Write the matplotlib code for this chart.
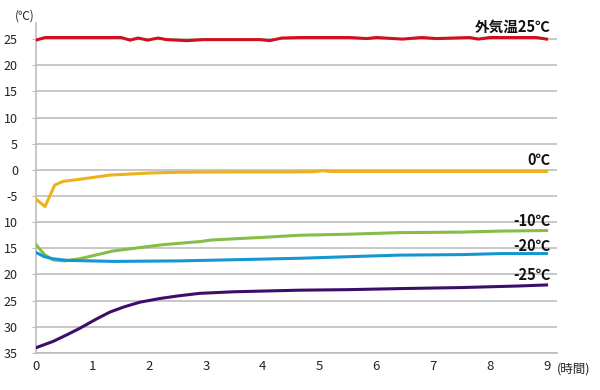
import matplotlib
matplotlib.use("Agg")
import matplotlib.pyplot as plt

plt.rcParams['font.family'] = ['Noto Sans CJK JP', 'DejaVu Sans']

# Data (hours, deg C)
t_red = [0, 0.16, 1.5, 1.66, 1.8, 1.97, 2.15, 2.3, 2.66, 2.95, 3.95, 4.12, 4.33, 4.65,
         5.53, 5.83, 6.0, 6.46, 6.8, 7.06, 7.64, 7.8, 8.0, 8.82, 9.0]
v_red = [24.8, 25.3, 25.3, 24.8, 25.2, 24.8, 25.2, 24.9, 24.7, 24.9, 24.9, 24.7, 25.2, 25.3,
         25.3, 25.1, 25.3, 25.0, 25.3, 25.1, 25.3, 25.0, 25.3, 25.3, 25.0]

t_yel = [0, 0.16, 0.33, 0.48, 0.77, 1.3, 2.0, 2.54, 3.5, 4.5, 4.9, 5.05, 5.2, 6.0, 7.0, 8.0, 9.0]
v_yel = [-5.6, -7.0, -2.9, -2.2, -1.8, -1.0, -0.6, -0.45, -0.4, -0.4, -0.35, -0.15, -0.3, -0.3, -0.3, -0.3, -0.3]

t_grn = [0, 0.15, 0.3, 0.5, 0.77, 1.36, 2.24, 2.9, 3.1, 4.0, 4.65, 5.5, 6.4, 7.5, 8.2, 9.0]
v_grn = [-14.3, -16.2, -17.2, -17.4, -17.0, -15.5, -14.3, -13.7, -13.4, -12.9, -12.5, -12.3, -12.0, -11.9, -11.7, -11.6]

t_blu = [0, 0.15, 0.3, 0.55, 1.36, 2.54, 3.4, 4.65, 5.5, 6.4, 7.5, 8.2, 9.0]
v_blu = [-15.8, -16.6, -17.0, -17.3, -17.5, -17.4, -17.2, -16.9, -16.6, -16.3, -16.2, -16.0, -16.0]

t_pur = [0, 0.3, 0.55, 0.77, 1.05, 1.3, 1.55, 1.83, 2.18, 2.5, 2.89, 3.5, 4.65, 5.5, 6.4, 7.5, 8.5, 9.0]
v_pur = [-34.0, -32.8, -31.5, -30.3, -28.6, -27.2, -26.2, -25.3, -24.6, -24.1, -23.6, -23.3, -23.0, -22.9, -22.7, -22.5, -22.2, -22.0]

series = [
    (t_red, v_red, '#D0101C', '外気温25℃', 27.4),
    (t_yel, v_yel, '#EDB11A', '0℃', 1.8),
    (t_grn, v_grn, '#86BC48', '-10℃', -9.8),
    (t_blu, v_blu, '#1596D2', '-20℃', -14.5),
    (t_pur, v_pur, '#3C0E6A', '-25℃', -20.1),
]

yticks = [25, 20, 15, 10, 5, 0, -5, -10, -15, -20, -25, -30, -35]
ytick_labels = ['25', '20', '15', '10', '5', '0', '-5', '10', '15', '20', '25', '30', '35']
xticks = list(range(10))

fig = plt.figure(figsize=(6, 3.9), dpi=100)
ax = fig.add_axes([0.06, 0.095, 0.868, 0.845])

for t, v, c, lab, ly in series:
    ax.plot(t, v, color=c, lw=2.2, solid_joinstyle='round', zorder=3)
    ax.text(9.07, ly, lab, ha='right', va='center', fontsize=10.5,
            fontweight='bold', color='#111111', zorder=4)

ax.set_xlim(0, 9.18)
ax.set_ylim(-35, 28)
ax.set_yticks(yticks)
ax.set_yticklabels(ytick_labels)
ax.set_xticks(xticks)
ax.grid(axis='y', color='#BDBDBD', lw=1.2, zorder=1)
ax.set_axisbelow(True)
for s in ['top', 'right']:
    ax.spines[s].set_visible(False)
ax.spines['left'].set_color('#BDBDBD')
ax.spines['left'].set_linewidth(1.2)
ax.spines['bottom'].set_color('#BDBDBD')
ax.spines['bottom'].set_linewidth(1.2)
ax.tick_params(axis='y', length=3, color='#BDBDBD', pad=10, labelsize=9, labelcolor='#222222')
ax.tick_params(axis='x', length=0, pad=5, labelsize=9.5, labelcolor='#222222')

fig.text(0.025, 0.958, '(℃)', fontsize=8.5, ha='left', va='center', color='#222222')
fig.text(0.928, 0.055, '(時間)', fontsize=9, ha='left', va='center', color='#222222')

fig.savefig('out.png', dpi=100)
